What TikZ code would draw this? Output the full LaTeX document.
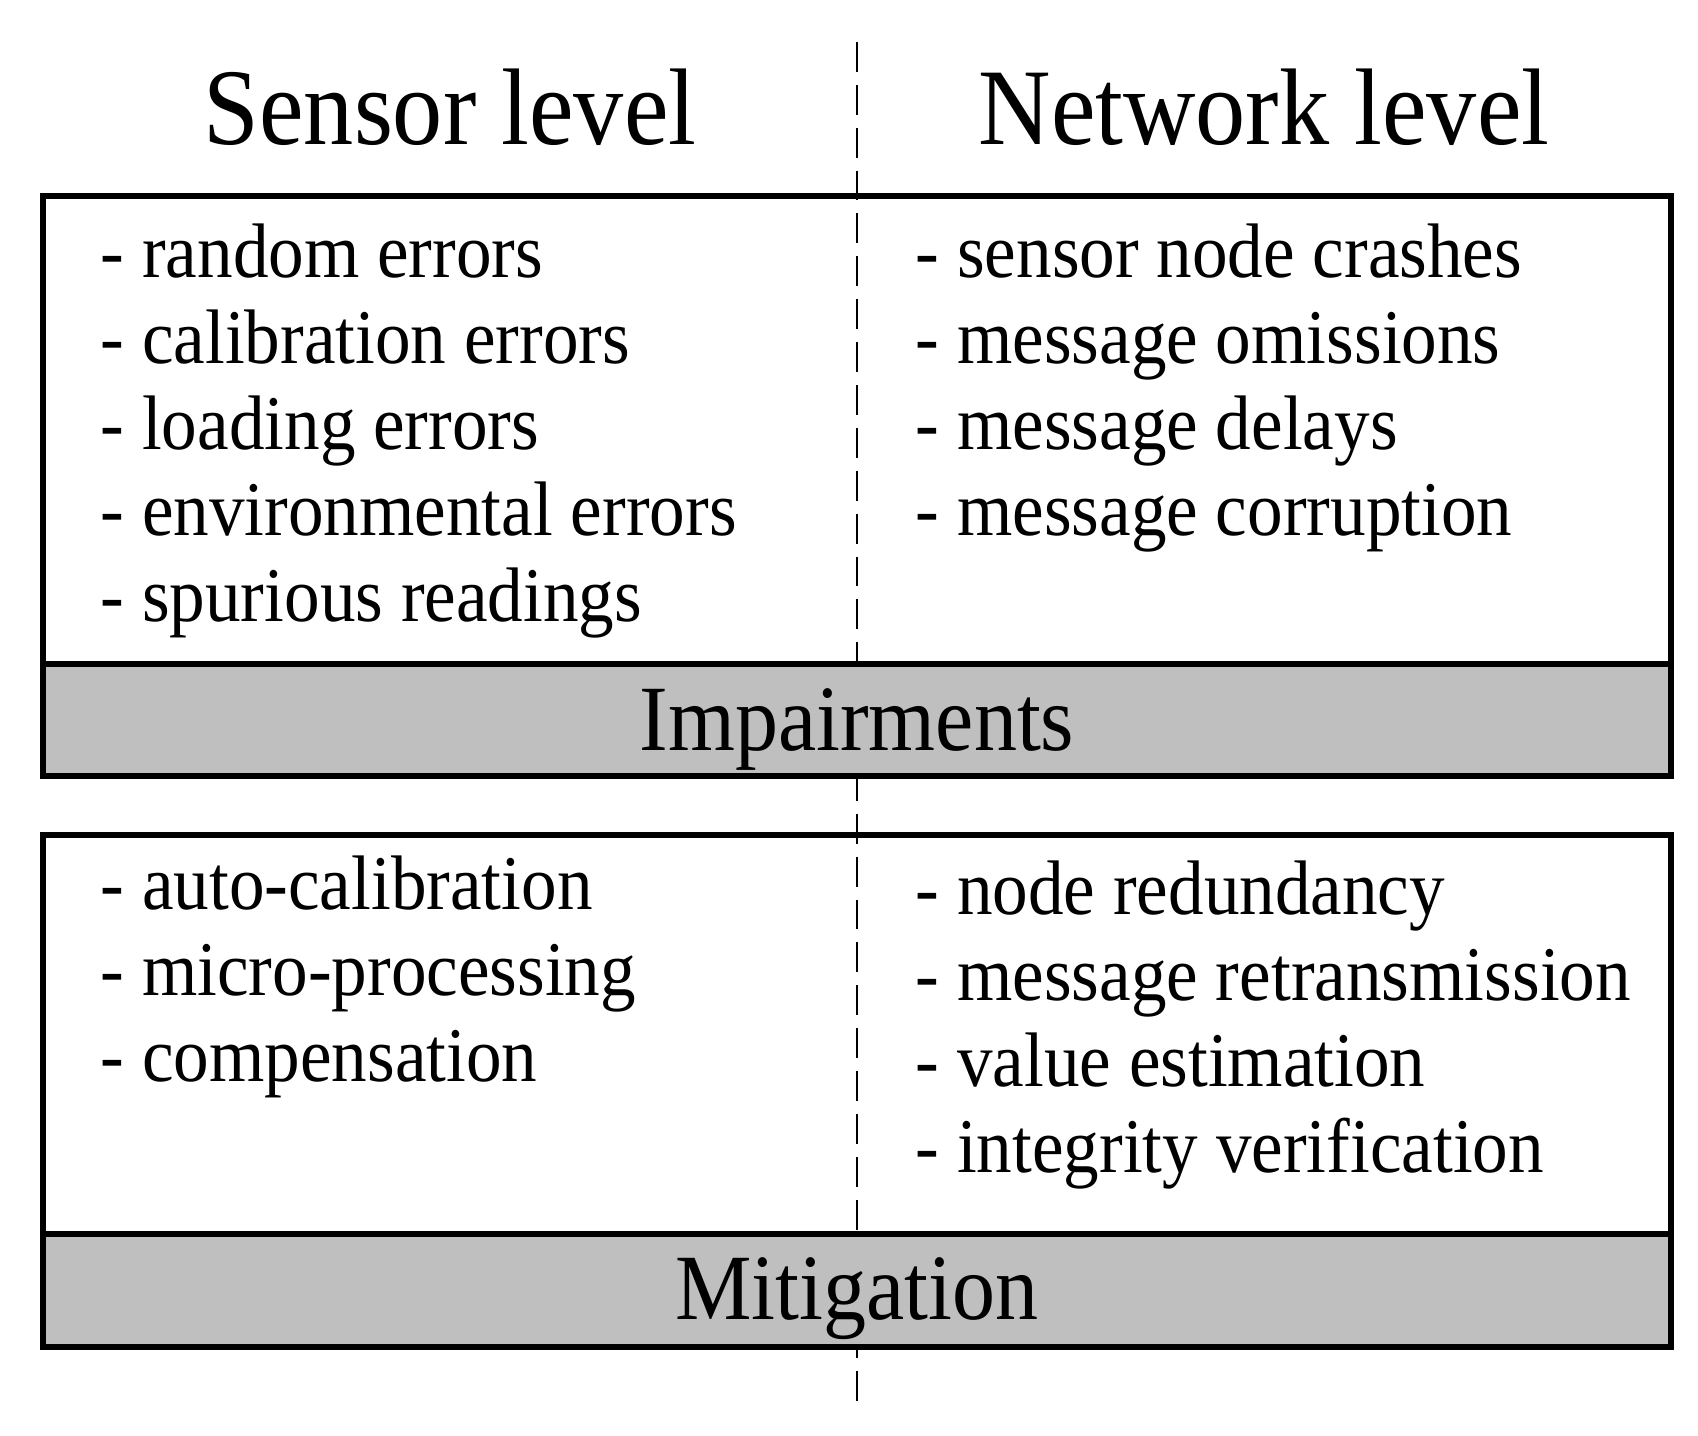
\documentclass[tikz,border=0pt]{standalone}
\usepackage{fontspec}
\setmainfont{Liberation Serif}[FakeStretch=0.92]
\definecolor{bandgray}{gray}{0.75}
\tikzset{frame/.style={line width=1.5pt}}
\tikzset{head/.style={anchor=base, inner sep=0pt, font=\fontsize{31}{36}\selectfont}}
\tikzset{band/.style={anchor=base, inner sep=0pt, font=\fontsize{26.6}{31}\selectfont}}
\tikzset{item/.style={anchor=base west, inner sep=0pt, font=\fontsize{22}{26}\selectfont}}

\begin{document}
\begin{tikzpicture}
      \useasboundingbox (0, 0) rectangle (16.98, 14.36);

      \coordinate (split top) at (8.57, 13.94);
      \coordinate (split bot) at (8.57, 0.29);
      \draw [line width=0.6pt, dash pattern=on 8.5pt off 3.7pt] (split top) -- (split bot);

      \fill [bandgray] (0.43, 7.72) rectangle (16.71, 6.60);
      \fill [bandgray] (0.43, 2.02) rectangle (16.71, 0.89);
      \draw [frame] (0.43, 12.40) rectangle (16.71, 6.60);
      \draw [frame] (0.43, 7.72) -- (16.71, 7.72);
      \draw [frame] (0.43, 6.01) rectangle (16.71, 0.89);
      \draw [frame] (0.43, 2.02) -- (16.71, 2.02);

      \node [head] (sensor) at (4.50, 12.91) {Sensor level};
      \node [head] (network) at (12.64, 12.91) {Network level};

      \node [band] (impair) at (8.57, 6.85) {Impairments};
      \node [band] (mitig) at (8.57, 1.16) {Mitigation};

      \node [item] (s1) at (1.00, 11.58) {- random errors};
      \node [item] (s2) at (1.00, 10.72) {- calibration errors};
      \node [item] (s3) at (1.00, 9.86) {- loading errors};
      \node [item] (s4) at (1.00, 9.00) {- environmental errors};
      \node [item] (s5) at (1.00, 8.14) {- spurious readings};

      \node [item] (n1) at (9.15, 11.58) {- sensor node crashes};
      \node [item] (n2) at (9.15, 10.72) {- message omissions};
      \node [item] (n3) at (9.15, 9.86) {- message delays};
      \node [item] (n4) at (9.15, 9.00) {- message corruption};

      \node [item] (m1) at (1.00, 5.26) {- auto-calibration};
      \node [item] (m2) at (1.00, 4.40) {- micro-processing};
      \node [item] (m3) at (1.00, 3.54) {- compensation};

      \node [item] (r1) at (9.15, 5.21) {- node redundancy};
      \node [item] (r2) at (9.15, 4.35) {- message retransmission};
      \node [item] (r3) at (9.15, 3.49) {- value estimation};
      \node [item] (r4) at (9.15, 2.63) {- integrity verification};
    \end{tikzpicture}
\end{document}
